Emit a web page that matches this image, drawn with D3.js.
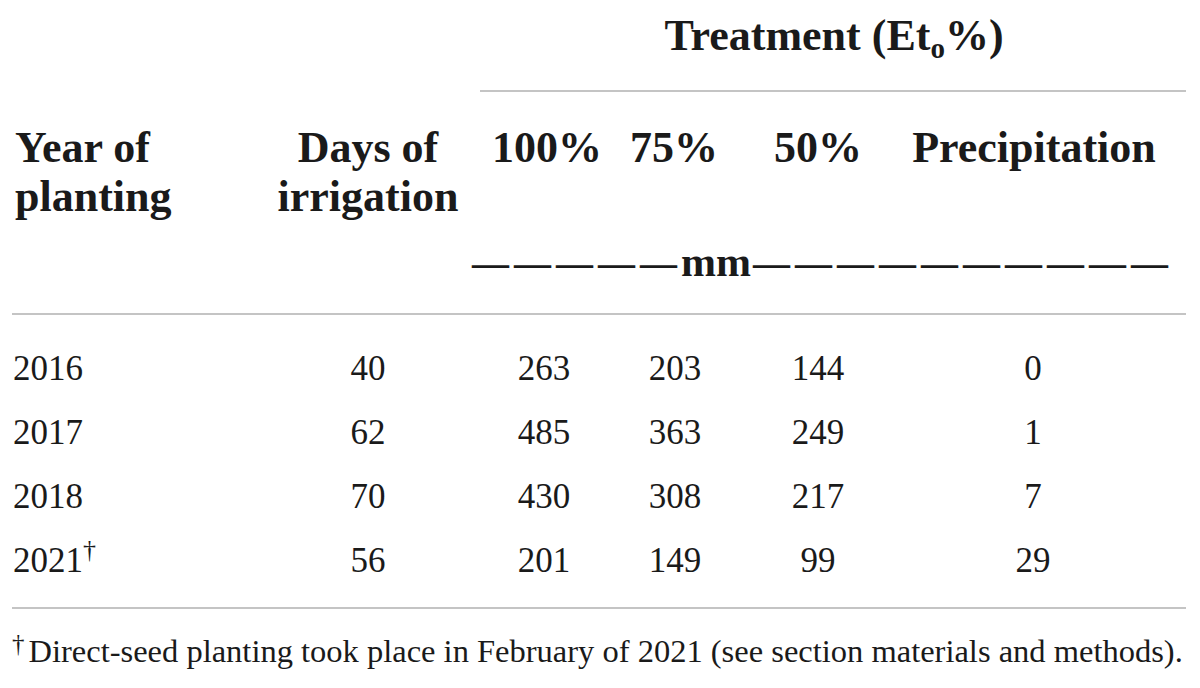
<!DOCTYPE html>
<html>
<head>
<meta charset="utf-8">
<script src="https://cdn.jsdelivr.net/npm/d3@7"></script>
<style>
  html, body { margin: 0; padding: 0; background: #fff; }
  svg { display: block; }
</style>
</head>
<body>
<div class="chart"></div>
<script>
// table contents
var years = ['2016', '2017', '2018', '2021'],
	yearMarks = ['', '', '', '\u2020'],
	days = [40, 62, 70, 56],
	et100 = [263, 485, 430, 201],
	et75 = [203, 363, 308, 149],
	et50 = [144, 249, 217, 99],
	precip = [0, 1, 7, 29];

var treatments = ['100%', '75%', '50%', 'Precipitation'];
var unit = 'mm';
var footnote = 'Direct-seed planting took place in February of 2021 (see section materials and methods).';

var w = 1200, h = 688,
	serif = '"Liberation Serif", "DejaVu Serif", serif',
	ink = '#1a1a1a',
	rule = '#c4c4c4';

// column centres for the numeric columns
var colX = [368, 544, 675, 818, 1033],
	headX = [547, 674, 818, 1034];

var y = d3.scalePoint()
			.domain(years)
			.range([380, 572]);

var svg = d3.select('.chart').append('svg')
			.attr('width', w)
			.attr('height', h)
			.style('font-family', serif)
			.style('fill', ink);

// horizontal rules
var rules = [
	{ x1: 480, x2: 1186, y: 91 },
	{ x1: 12, x2: 1186, y: 314 },
	{ x1: 12, x2: 1186, y: 608 }
];
svg.selectAll('line.rule')
	.data(rules)
	.enter().append('line')
	.attr('class', 'rule')
	.attr('x1', function(d) { return d.x1; })
	.attr('x2', function(d) { return d.x2; })
	.attr('y1', function(d) { return d.y; })
	.attr('y2', function(d) { return d.y; })
	.attr('stroke', rule)
	.attr('stroke-width', 2);

// spanner heading
var title = svg.append('text')
	.attr('x', 834)
	.attr('y', 50)
	.attr('text-anchor', 'middle')
	.attr('font-weight', 'bold')
	.attr('font-size', 44);
title.append('tspan').text('Treatment (Et');
title.append('tspan').attr('font-size', 29).attr('dy', 8).text('o');
title.append('tspan').attr('dy', -8).text('%)');

// stub headings
var head = svg.append('g')
	.attr('font-weight', 'bold')
	.attr('font-size', 44);

head.append('text').attr('x', 15).attr('y', 162).text('Year of');
head.append('text').attr('x', 15).attr('y', 211).text('planting');
head.append('text').attr('x', colX[0]).attr('y', 162).attr('text-anchor', 'middle').text('Days of');
head.append('text').attr('x', colX[0]).attr('y', 211).attr('text-anchor', 'middle').text('irrigation');

head.selectAll('text.treat')
	.data(treatments)
	.enter().append('text')
	.attr('class', 'treat')
	.attr('x', function(d, i) { return headX[i]; })
	.attr('y', 162)
	.attr('text-anchor', 'middle')
	.text(function(d) { return d; });

// unit line: separate dashes either side of "mm"
function dashes(n) { return d3.range(n).map(function() { return '\u2014'; }).join(''); }
var u = svg.append('text')
	.attr('x', 472)
	.attr('y', 276)
	.attr('font-weight', 'bold');
u.append('tspan').attr('font-size', 37).attr('letter-spacing', 5).text(dashes(5));
u.append('tspan').attr('font-size', 42).attr('dx', -1).text(unit);
u.append('tspan').attr('font-size', 37).attr('letter-spacing', 5).attr('dx', 2).text(dashes(10));

// body rows
var rows = years.map(function(yr, i) {
	return { year: yr, mark: yearMarks[i], vals: [days[i], et100[i], et75[i], et50[i], precip[i]] };
});

var row = svg.selectAll('g.row')
	.data(rows)
	.enter().append('g')
	.attr('class', 'row')
	.attr('transform', function(d) { return 'translate(0,' + y(d.year) + ')'; })
	.attr('font-size', 35);

var yt = row.append('text').attr('x', 13);
yt.append('tspan').text(function(d) { return d.year; });
yt.append('tspan')
	.attr('font-size', 26)
	.attr('dy', -14)
	.text(function(d) { return d.mark; });

row.selectAll('text.val')
	.data(function(d) { return d.vals; })
	.enter().append('text')
	.attr('class', 'val')
	.attr('x', function(d, i) { return colX[i]; })
	.attr('text-anchor', 'middle')
	.text(function(d) { return d; });

// footnote
var fn = svg.append('text')
	.attr('x', 12)
	.attr('y', 662)
	.attr('font-size', 32.5);
fn.append('tspan').attr('font-size', 25).attr('dy', -10).text('\u2020');
fn.append('tspan').attr('dy', 10).attr('dx', 4).text(footnote);
</script>
</body>
</html>
